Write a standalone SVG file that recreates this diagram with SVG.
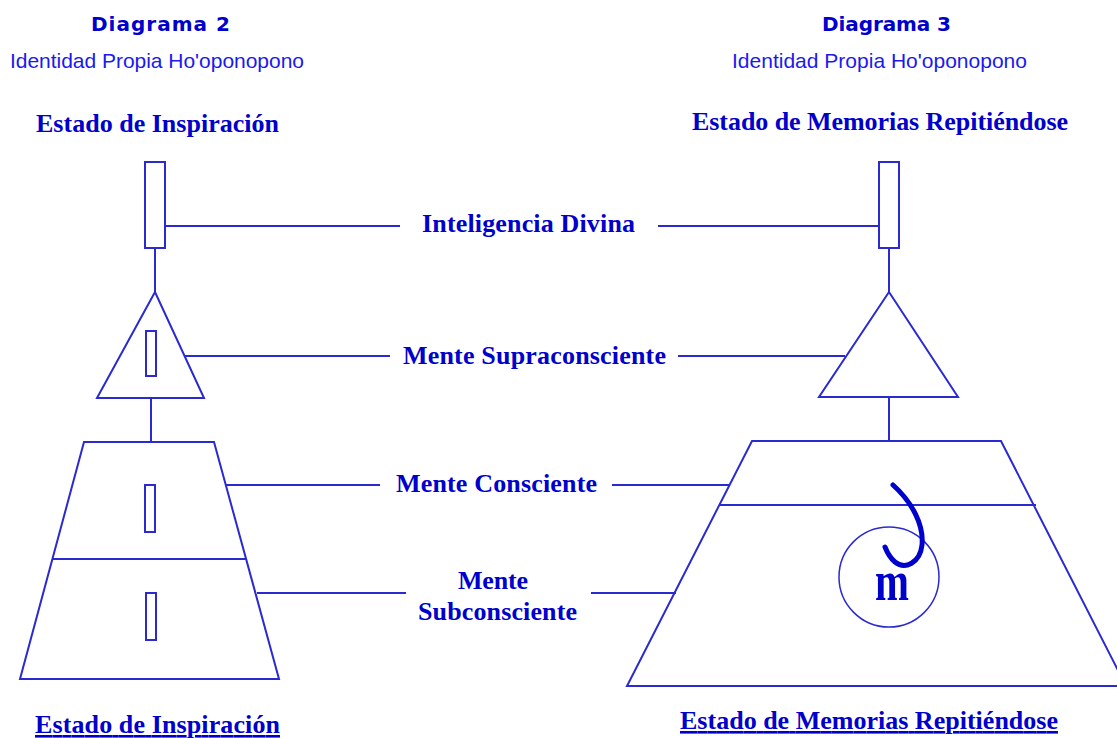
<svg xmlns="http://www.w3.org/2000/svg" width="1117" height="738" viewBox="0 0 1117 738">
<style>
.sh{fill:none;stroke:#2a2ad0;stroke-width:2}
.cn{stroke:#2a2ad0;stroke-width:2;fill:none}
.hd{font-family:"DejaVu Sans",Verdana,sans-serif;font-weight:bold;font-size:20px;fill:#0000cc}
.sub{font-family:"Liberation Sans",Arial,sans-serif;font-size:21px;fill:#1a1aee}
.lb{font-family:"Liberation Serif","Times New Roman",serif;font-weight:bold;font-size:26px;fill:#0000cc}
.ul{text-decoration:underline}
</style>
<rect width="1117" height="738" fill="#ffffff"/>
<g id="titles">
<text class="hd" x="91" y="31" textLength="139" lengthAdjust="spacing">Diagrama 2</text>
<text class="sub" x="10" y="68" textLength="294" lengthAdjust="spacing">Identidad Propia Ho'oponopono</text>
<text class="hd" x="822" y="31" textLength="129" lengthAdjust="spacing">Diagrama 3</text>
<text class="sub" x="732" y="68" textLength="295" lengthAdjust="spacing">Identidad Propia Ho'oponopono</text>
<text class="lb" x="36" y="132" textLength="243" lengthAdjust="spacing">Estado de Inspiración</text>
<text class="lb" x="692" y="130" textLength="376" lengthAdjust="spacing">Estado de Memorias Repitiéndose</text>
</g>
<g id="connectors">
<line class="cn" x1="155" y1="248" x2="155" y2="292"/>
<line class="cn" x1="151" y1="398" x2="151" y2="442"/>
<line class="cn" x1="889" y1="248" x2="889" y2="292"/>
<line class="cn" x1="889" y1="398" x2="889" y2="441"/>
<line class="cn" x1="165" y1="226" x2="400" y2="226"/>
<line class="cn" x1="658" y1="226" x2="879" y2="226"/>
<line class="cn" x1="185" y1="356" x2="390" y2="356"/>
<line class="cn" x1="678" y1="356" x2="845" y2="356"/>
<line class="cn" x1="226" y1="485" x2="380" y2="485"/>
<line class="cn" x1="612" y1="485" x2="729" y2="485"/>
<line class="cn" x1="257" y1="593" x2="406" y2="593"/>
<line class="cn" x1="591" y1="593" x2="676" y2="593"/>
</g>
<g id="left-divina">
<rect class="sh" x="145" y="162" width="20" height="86"/>
</g>
<g id="left-supra">
<polygon class="sh" points="155,292 97,398 204,398"/>
<rect class="sh" x="146" y="331" width="10" height="45"/>
</g>
<g id="left-mente">
<polygon class="sh" points="84,442 214,442 279,679 20,679"/>
<line class="sh" x1="52" y1="559" x2="247" y2="559"/>
<rect class="sh" x="145" y="485" width="10" height="47"/>
<rect class="sh" x="146" y="593" width="10" height="47"/>
</g>
<g id="right-divina">
<rect class="sh" x="879" y="162" width="20" height="86"/>
</g>
<g id="right-supra">
<polygon class="sh" points="889,292 819,397 958,397"/>
</g>
<g id="right-mente">
<polygon class="sh" points="752,441 1001,441 1126,686 627,686"/>
<line class="sh" x1="719" y1="505" x2="1036" y2="505"/>
<circle cx="889" cy="577" r="50" fill="none" stroke="#2a2ad0" stroke-width="1.5"/>
<path d="M893,485 C912,502 924,525 922,545 C920,563 905,570 895,562 C890,558 887,552 885,547" fill="none" stroke="#0000cc" stroke-width="5" stroke-linecap="round"/>
<text x="875" y="600" font-family="Liberation Serif,'Times New Roman',serif" font-weight="bold" font-size="58" fill="#0000cc" textLength="34" lengthAdjust="spacingAndGlyphs">m</text>
</g>
<g id="labels">
<text class="lb" x="422" y="232" textLength="213" lengthAdjust="spacing">Inteligencia Divina</text>
<text class="lb" x="403" y="364" textLength="263" lengthAdjust="spacing">Mente Supraconsciente</text>
<text class="lb" x="396" y="492" textLength="201" lengthAdjust="spacing">Mente Consciente</text>
<text class="lb" x="458" y="589" textLength="70" lengthAdjust="spacing">Mente</text>
<text class="lb" x="418" y="620" textLength="159" lengthAdjust="spacing">Subconsciente</text>
</g>
<g id="footers">
<text class="lb ul" x="35" y="733" textLength="245" lengthAdjust="spacing">Estado de Inspiración</text>
<text class="lb ul" x="680" y="729" textLength="378" lengthAdjust="spacing">Estado de Memorias Repitiéndose</text>
</g>
</svg>
